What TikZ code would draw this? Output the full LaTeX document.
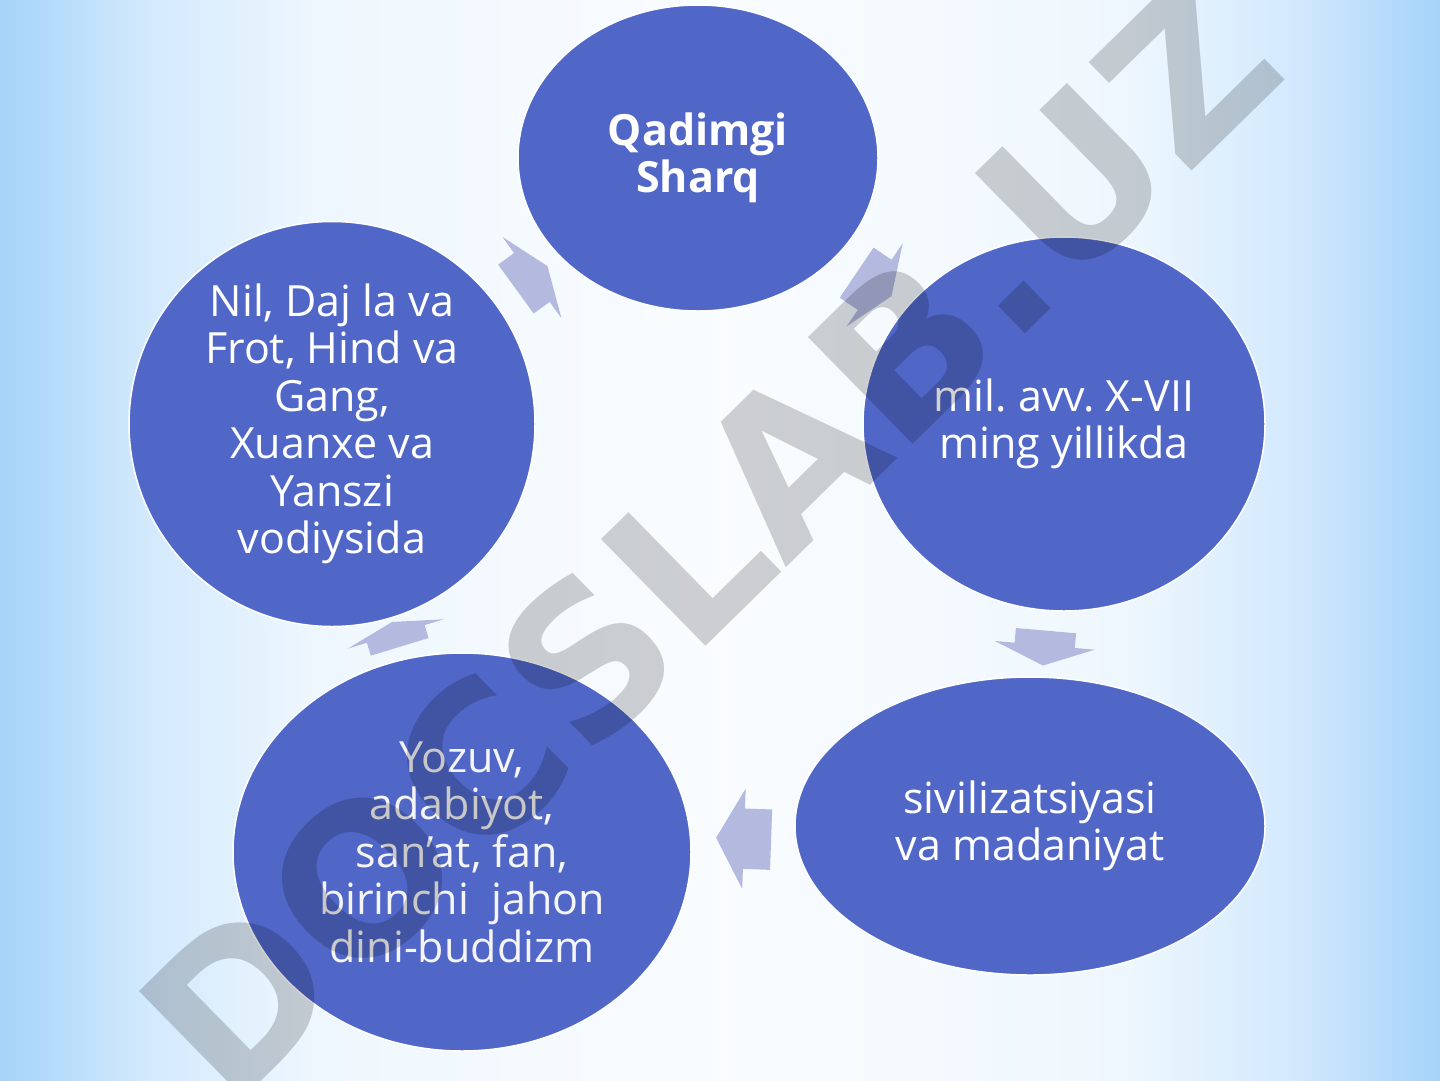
\documentclass[tikz,border=0pt]{standalone}
\usepackage{fontspec}
\setmainfont{Open Sans}
\newfontfamily\markfont{DejaVu Sans}
\usepackage{tikz}
\usetikzlibrary{shapes.geometric,shapes.arrows,calc}
\usepackage{xcolor}
\frenchspacing

\definecolor{bgblue}{RGB}{165,211,250}
\definecolor{discfill}{RGB}{80,103,200}
\definecolor{arrowfill}{RGB}{180,185,224}

% tikz maps 25bp..75bp of a shading onto the path
\pgfdeclarehorizontalshading{slideshade}{100bp}{color(0bp)=(bgblue);
	color(25bp)=(bgblue); color(30bp)=(bgblue!50!white);
	color(36bp)=(bgblue!18!white); color(50bp)=(bgblue!6!white);
	color(64bp)=(bgblue!18!white); color(70bp)=(bgblue!50!white);
	color(75bp)=(bgblue); color(100bp)=(bgblue)}

\tikzset{
	disc/.style={ellipse, fill=discfill, draw=white, line width=1.5pt,
		inner sep=0pt, text=white, align=center,
		font=\fontsize{43}{47.5}\selectfont},
	blockarrow/.style={single arrow, fill=arrowfill, inner xsep=0pt,
		inner ysep=30pt, single arrow head extend=20pt, minimum height=#1},
	watermark/.style={text=black, text opacity=0.18,
		font=\markfont\bfseries\fontsize{205}{205}\selectfont},
}

\begin{document}
\begin{tikzpicture}[x=1pt,y=-1pt]
		\shade[shading=slideshade] (0,0) rectangle (1440,1080);
		\useasboundingbox (0,0) rectangle (1440,1080);
		% the five ellipses
		\node[disc, minimum width=360pt, minimum height=306pt,
			font=\fontsize{43}{47.5}\selectfont\bfseries] (sharq) at (698,158) {Qadimgi\\Sharq};
		\node[disc, minimum width=402pt, minimum height=374pt] (mil) at (1064,424) {mil. avv. X-VII\\ming yillikda};
		\node[disc, minimum width=470pt, minimum height=298pt] (siv) at (1030,826) {sivilizatsiyasi\\va madaniyat};
		\node[disc, minimum width=458pt, minimum height=398pt, text=white!92!gray] (yozuv) at (462,852)
			{Yozuv,\\adabiyot,\\san’at, fan,\\birinchi\ \ jahon\\dini-buddizm};
		\node[disc, minimum width=406pt, minimum height=405pt] (nil) at (332,424)
			{Nil, Daj la va\\Frot, Hind va\\Gang,\\Xuanxe va\\Yanszi\\vodiysida};
		% arrows between them
		\node[blockarrow=39pt, rotate=36, single arrow tip angle=138] (a1) at ($(nil)!0.5!(sharq)+(12,-10)$) {};
		\node[blockarrow=42pt, rotate=-34, single arrow tip angle=136] (a2) at ($(sharq)!0.5!(mil)+(-12,-10)$) {};
		\node[blockarrow=35pt, rotate=-95, single arrow tip angle=136] (a3) at ($(mil)!0.5!(siv)+(-2,17)$) {};
		\node[blockarrow=55pt, rotate=178, single arrow tip angle=122] (a4) at ($(siv)!0.5!(yozuv)+(6,0)$) {};
		\node[blockarrow=26pt, rotate=107, single arrow tip angle=152] (a5) at ($(yozuv)!0.5!(nil)$) {};
		% watermark
		\node[watermark, rotate=44.4] (wm) at (709,539) {DOCSLAB.UZ};
	\end{tikzpicture}
\end{document}
